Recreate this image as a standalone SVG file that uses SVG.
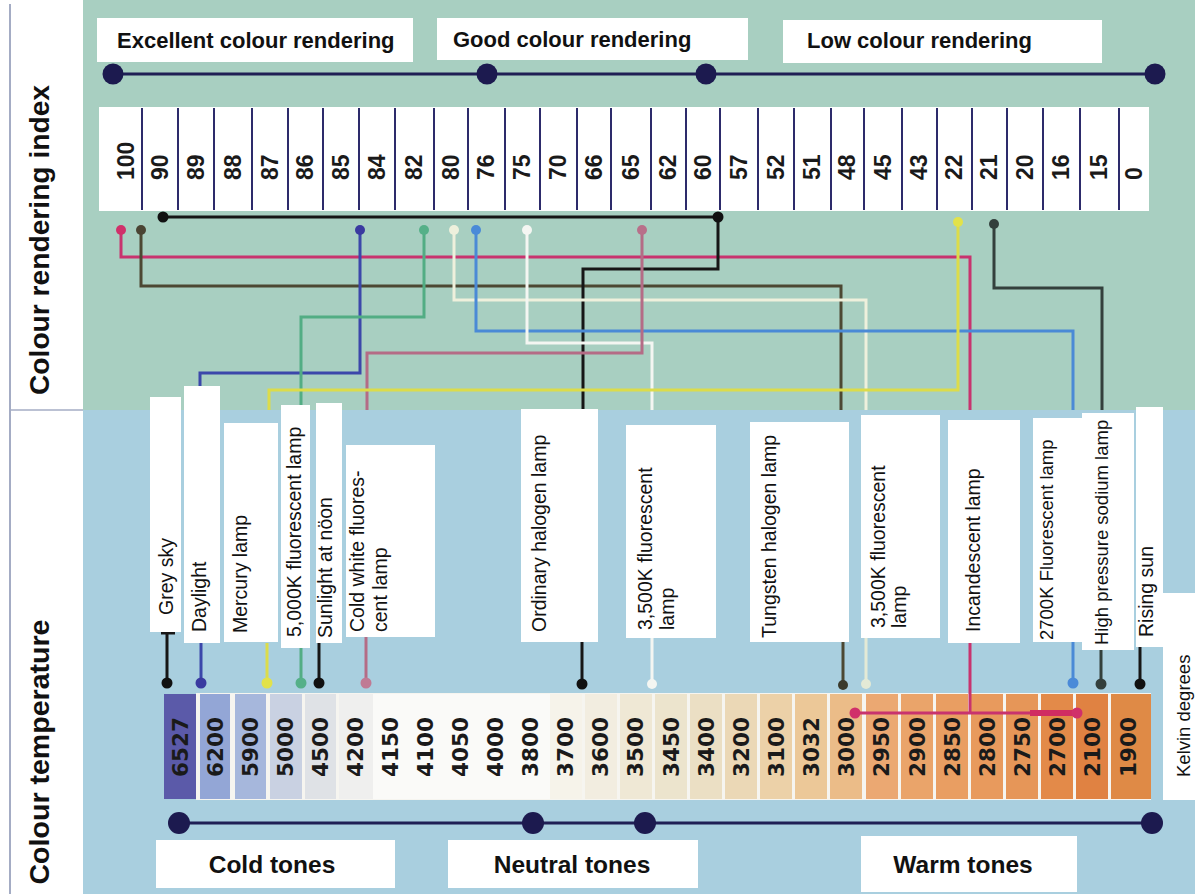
<svg xmlns="http://www.w3.org/2000/svg" width="1195" height="894" viewBox="0 0 1195 894">
<style>
.box{fill:#ffffff}
.hd{font-family:"Liberation Sans",Arial,sans-serif;font-weight:bold;font-size:22px;fill:#111}
.tone{font-family:"Liberation Sans",Arial,sans-serif;font-weight:bold;font-size:24.5px;fill:#111;text-anchor:middle}
.side{font-family:"Liberation Sans",Arial,sans-serif;font-weight:bold;font-size:28px;fill:#111;text-anchor:middle}
.lamp{font-family:"Liberation Sans",Arial,sans-serif;font-size:19.5px;fill:#111}
.sm{font-size:18.5px}
.cri{font-family:"Liberation Sans",Arial,sans-serif;font-weight:bold;font-size:23px;fill:#1a1a1a}
.kt{font-family:"DejaVu Sans","Liberation Sans",sans-serif;font-weight:bold;font-size:21.5px;fill:#1a1a1a;text-anchor:middle}
.sep{stroke:#2d2b6b;stroke-width:2}
.axis{stroke:#1f1f55;stroke-width:3;fill:none}
.axdot{fill:#1c1a4f}
.c{fill:none;stroke-width:3}
</style>

<!-- backgrounds -->
<rect x="0" y="0" width="1195" height="894" fill="#ffffff"/>
<rect x="83" y="0" width="1112" height="410" fill="#a8cfc1"/>
<rect x="83" y="410" width="1112" height="484" fill="#a9cfdf"/>
<line x1="10" y1="4" x2="10" y2="894" stroke="#a4acc4" stroke-width="2"/>
<line x1="10" y1="410" x2="83" y2="410" stroke="#a4acc4" stroke-width="1.5"/>
<text class="side" transform="translate(49,240) rotate(-90)" textLength="310" lengthAdjust="spacingAndGlyphs">Colour rendering index</text>
<text class="side" transform="translate(49,752) rotate(-90)" textLength="265" lengthAdjust="spacingAndGlyphs">Colour temperature</text>

<!-- top rendering categories -->
<g id="cri-categories">
<rect class="box" x="97" y="18" width="316" height="44"/>
<text class="hd" x="117" y="48">Excellent colour rendering</text>
<rect class="box" x="437" y="18" width="311" height="42"/>
<text class="hd" x="453" y="47">Good colour rendering</text>
<rect class="box" x="783" y="20" width="319" height="43"/>
<text class="hd" x="807" y="48">Low colour rendering</text>
<line class="axis" x1="113" y1="74" x2="1155" y2="74"/>
<circle class="axdot" cx="113" cy="74" r="10.5"/>
<circle class="axdot" cx="487" cy="74" r="10.5"/>
<circle class="axdot" cx="706" cy="74" r="10.5"/>
<circle class="axdot" cx="1155" cy="74" r="10.5"/>
</g>

<!-- CRI scale -->
<g id="cri-scale">
<rect class="box" x="99" y="107" width="1050" height="104"/>
<g class="sep">
<line x1="142" y1="108" x2="142" y2="210"/><line x1="178" y1="108" x2="178" y2="210"/>
<line x1="214" y1="108" x2="214" y2="210"/><line x1="252" y1="108" x2="252" y2="210"/>
<line x1="288" y1="108" x2="288" y2="210"/><line x1="323" y1="108" x2="323" y2="210"/>
<line x1="359" y1="108" x2="359" y2="210"/><line x1="395" y1="108" x2="395" y2="210"/>
<line x1="434" y1="108" x2="434" y2="210"/><line x1="468" y1="108" x2="468" y2="210"/>
<line x1="505" y1="108" x2="505" y2="210"/><line x1="540" y1="108" x2="540" y2="210"/>
<line x1="577" y1="108" x2="577" y2="210"/><line x1="611" y1="108" x2="611" y2="210"/>
<line x1="651" y1="108" x2="651" y2="210"/><line x1="686" y1="108" x2="686" y2="210"/>
<line x1="720" y1="108" x2="720" y2="210"/><line x1="758" y1="108" x2="758" y2="210"/>
<line x1="794" y1="108" x2="794" y2="210"/><line x1="831" y1="108" x2="831" y2="210"/>
<line x1="864" y1="108" x2="864" y2="210"/><line x1="902" y1="108" x2="902" y2="210"/>
<line x1="937" y1="108" x2="937" y2="210"/><line x1="972" y1="108" x2="972" y2="210"/>
<line x1="1007" y1="108" x2="1007" y2="210"/><line x1="1043" y1="108" x2="1043" y2="210"/>
<line x1="1080" y1="108" x2="1080" y2="210"/><line x1="1119" y1="108" x2="1119" y2="210"/>
</g>
<g class="cri">
<text transform="translate(134,180) rotate(-90)">100</text>
<text transform="translate(168,180) rotate(-90)">90</text>
<text transform="translate(204,180) rotate(-90)">89</text>
<text transform="translate(241,180) rotate(-90)">88</text>
<text transform="translate(278,180) rotate(-90)">87</text>
<text transform="translate(313,180) rotate(-90)">86</text>
<text transform="translate(349,180) rotate(-90)">85</text>
<text transform="translate(385,180) rotate(-90)">84</text>
<text transform="translate(422,180) rotate(-90)">82</text>
<text transform="translate(459,180) rotate(-90)">80</text>
<text transform="translate(494,180) rotate(-90)">76</text>
<text transform="translate(530,180) rotate(-90)">75</text>
<text transform="translate(566,180) rotate(-90)">70</text>
<text transform="translate(602,180) rotate(-90)">66</text>
<text transform="translate(639,180) rotate(-90)">65</text>
<text transform="translate(676,180) rotate(-90)">62</text>
<text transform="translate(711,180) rotate(-90)">60</text>
<text transform="translate(747,180) rotate(-90)">57</text>
<text transform="translate(784,180) rotate(-90)">52</text>
<text transform="translate(820,180) rotate(-90)">51</text>
<text transform="translate(855,180) rotate(-90)">48</text>
<text transform="translate(891,180) rotate(-90)">45</text>
<text transform="translate(927,180) rotate(-90)">43</text>
<text transform="translate(962,180) rotate(-90)">22</text>
<text transform="translate(997,180) rotate(-90)">21</text>
<text transform="translate(1033,180) rotate(-90)">20</text>
<text transform="translate(1069,180) rotate(-90)">16</text>
<text transform="translate(1107,180) rotate(-90)">15</text>
<text transform="translate(1142,180) rotate(-90)">0</text>
</g>
</g>

<!-- colour temperature scale -->
<g id="kelvin-scale">
<rect x="196" y="693" width="955" height="107" fill="#f6f5f0"/>
<rect x="164" y="694" width="32" height="105" fill="#5b5aa9"/>
<rect x="200" y="694" width="30" height="105" fill="#93a6d6"/>
<rect x="235" y="694" width="31" height="105" fill="#a6b7dc"/>
<rect x="270" y="694" width="32" height="105" fill="#c9d1e2"/>
<rect x="305" y="694" width="31" height="105" fill="#dfe2e6"/>
<rect x="339" y="694" width="34" height="105" fill="#efefee"/>
<rect x="373" y="694" width="177" height="105" fill="#fafaf8"/>
<rect x="550" y="694" width="32" height="105" fill="#f6f3ea"/>
<rect x="585" y="694" width="32" height="105" fill="#f2ede0"/>
<rect x="620" y="694" width="32" height="105" fill="#efe8d5"/>
<rect x="655" y="694" width="32" height="105" fill="#ece4cd"/>
<rect x="690" y="694" width="32" height="105" fill="#ebdfc4"/>
<rect x="725" y="694" width="32" height="105" fill="#ebd8b6"/>
<rect x="760" y="694" width="32" height="105" fill="#ecd1a8"/>
<rect x="795" y="694" width="32" height="105" fill="#ecc898"/>
<rect x="830" y="694" width="32" height="105" fill="#ebbc88"/>
<rect x="866" y="694" width="32" height="105" fill="#eba872"/>
<rect x="901" y="694" width="32" height="105" fill="#eaa46a"/>
<rect x="936" y="694" width="32" height="105" fill="#e99e62"/>
<rect x="971" y="694" width="32" height="105" fill="#e89a5d"/>
<rect x="1006" y="694" width="32" height="105" fill="#e69658"/>
<rect x="1041" y="694" width="32" height="105" fill="#e38a49"/>
<rect x="1076" y="694" width="32" height="105" fill="#e08242"/>
<rect x="1111" y="694" width="40" height="105" fill="#df8a46"/>
<g class="kt">
<text transform="translate(188,747) rotate(-90)">6527</text>
<text transform="translate(223,747) rotate(-90)">6200</text>
<text transform="translate(258,747) rotate(-90)">5900</text>
<text transform="translate(293,747) rotate(-90)">5000</text>
<text transform="translate(328,747) rotate(-90)">4500</text>
<text transform="translate(363,747) rotate(-90)">4200</text>
<text transform="translate(398,747) rotate(-90)">4150</text>
<text transform="translate(433,747) rotate(-90)">4100</text>
<text transform="translate(468,747) rotate(-90)">4050</text>
<text transform="translate(503,747) rotate(-90)">4000</text>
<text transform="translate(538,747) rotate(-90)">3800</text>
<text transform="translate(573,747) rotate(-90)">3700</text>
<text transform="translate(608,747) rotate(-90)">3600</text>
<text transform="translate(643,747) rotate(-90)">3500</text>
<text transform="translate(679,747) rotate(-90)">3450</text>
<text transform="translate(714,747) rotate(-90)">3400</text>
<text transform="translate(749,747) rotate(-90)">3200</text>
<text transform="translate(784,747) rotate(-90)">3100</text>
<text transform="translate(819,747) rotate(-90)">3032</text>
<text transform="translate(854,747) rotate(-90)">3000</text>
<text transform="translate(889,747) rotate(-90)">2950</text>
<text transform="translate(925,747) rotate(-90)">2900</text>
<text transform="translate(960,747) rotate(-90)">2850</text>
<text transform="translate(995,747) rotate(-90)">2800</text>
<text transform="translate(1030,747) rotate(-90)">2750</text>
<text transform="translate(1065,747) rotate(-90)">2700</text>
<text transform="translate(1100,747) rotate(-90)">2100</text>
<text transform="translate(1136,747) rotate(-90)">1900</text>
</g>
</g>

<!-- tone categories -->
<g id="tone-categories">
<line class="axis" x1="179" y1="823" x2="1152" y2="823"/>
<circle class="axdot" cx="179" cy="823" r="11"/>
<circle class="axdot" cx="533" cy="823" r="11"/>
<circle class="axdot" cx="645" cy="823" r="11"/>
<circle class="axdot" cx="1152" cy="823" r="11"/>
<rect class="box" x="156" y="840" width="239" height="48"/>
<text class="tone" x="272" y="873">Cold tones</text>
<rect class="box" x="448" y="840" width="250" height="48"/>
<text class="tone" x="572" y="873">Neutral tones</text>
<rect class="box" x="861" y="836" width="216" height="56"/>
<text class="tone" x="963" y="873">Warm tones</text>
</g>

<!-- connectors -->
<g id="connectors">
<path class="c" stroke="#c8336e" d="M121,230 V257 H970 V410"/>
<path class="c" stroke="#4c4833" d="M141,230 V286 H841 V410"/>
<path class="c" stroke="#161616" d="M163,217 H718 V269 H583 V410"/>
<path class="c" stroke="#3b47aa" d="M360,230 V373 H200 V388"/>
<path class="c" stroke="#52ad84" d="M424,230 V317 H301 V406"/>
<path class="c" stroke="#eef0dc" d="M454,230 V300 H866 V410"/>
<path class="c" stroke="#4a8ad6" d="M476,230 V331 H1073 V410"/>
<path class="c" stroke="#f4f6f2" d="M527,230 V343 H652 V410"/>
<path class="c" stroke="#b46c86" d="M642,230 V353 H367 V410"/>
<path class="c" stroke="#dcdc4a" d="M958,222 V390 H269 V410"/>
<path class="c" stroke="#33403c" d="M994,224 V288 H1102 V410"/>
<circle cx="121" cy="230" r="5" fill="#d0306a"/>
<circle cx="141" cy="230" r="5" fill="#4a4433"/>
<circle cx="163" cy="217" r="5.5" fill="#111"/>
<circle cx="718" cy="217" r="5.5" fill="#111"/>
<circle cx="360" cy="230" r="5" fill="#3a3aa0"/>
<circle cx="424" cy="230" r="5" fill="#55b088"/>
<circle cx="454" cy="230" r="5" fill="#eef0dc"/>
<circle cx="476" cy="230" r="5" fill="#4a8ad8"/>
<circle cx="527" cy="230" r="5" fill="#f4f6f2"/>
<circle cx="642" cy="230" r="5" fill="#b8708a"/>
<circle cx="958" cy="222" r="5" fill="#e2e24a"/>
<circle cx="994" cy="224" r="5" fill="#333f3c"/>

<path class="c" stroke="#161616" d="M161,633 H175 M167,633 V683"/>
<path class="c" stroke="#3b47aa" d="M201,643 V683"/>
<path class="c" stroke="#dcdc4a" d="M267,643 V683"/>
<path class="c" stroke="#52ad84" d="M301,648 V683"/>
<path class="c" stroke="#161616" d="M319,643 V683"/>
<path class="c" stroke="#b46c86" d="M366,637 V683"/>
<path class="c" stroke="#161616" d="M582,642 V684"/>
<path class="c" stroke="#f4f6f2" d="M652,638 V684"/>
<path class="c" stroke="#4c4833" d="M843,642 V685"/>
<path class="c" stroke="#e4ead6" d="M866,638 V684"/>
<path class="c" stroke="#c8336e" d="M970,643 V713"/>
<path class="c" stroke="#4a8ad6" d="M1073,642 V683"/>
<path class="c" stroke="#33403c" d="M1101,650 V684"/>
<path class="c" stroke="#161616" d="M1140,647 V684"/>
<path class="c" stroke="#c8336e" d="M855,713 H1077"/>
<path fill="none" stroke="#d02c62" stroke-width="6" d="M1030,713 H1077"/>
<circle cx="167" cy="683" r="5.5" fill="#111"/>
<circle cx="201" cy="683" r="5.5" fill="#3a3aa0"/>
<circle cx="267" cy="683" r="5.5" fill="#e2e24a"/>
<circle cx="301" cy="683" r="5.5" fill="#55b088"/>
<circle cx="319" cy="683" r="5.5" fill="#111"/>
<circle cx="366" cy="683" r="5.5" fill="#c07a94"/>
<circle cx="582" cy="684" r="5.5" fill="#111"/>
<circle cx="652" cy="684" r="5" fill="#f4f6f2"/>
<circle cx="843" cy="685" r="5" fill="#3a3a2c"/>
<circle cx="866" cy="684" r="5" fill="#e4ead6"/>
<circle cx="1073" cy="683" r="5.5" fill="#4a8ad8"/>
<circle cx="1101" cy="684" r="5.5" fill="#333f3c"/>
<circle cx="1140" cy="684" r="5.5" fill="#111"/>
<circle cx="855" cy="713" r="5.5" fill="#d0306a"/>
<circle cx="1077" cy="713" r="5.5" fill="#d0306a"/>
</g>

<!-- lamp labels -->
<g id="grey-sky"><rect class="box" x="150" y="397" width="31" height="235"/>
<text class="lamp" transform="translate(173,615) rotate(-90)">Grey sky</text></g>
<g id="daylight"><rect class="box" x="184" y="386" width="36" height="257"/>
<text class="lamp" transform="translate(206,632) rotate(-90)">Daylight</text></g>
<g id="mercury-lamp"><rect class="box" x="224" y="423" width="54" height="219"/>
<text class="lamp" transform="translate(247,633) rotate(-90)">Mercury lamp</text></g>
<g id="fluorescent-5000k"><rect class="box" x="281" y="405" width="29" height="243"/>
<text class="lamp" transform="translate(301,637) rotate(-90)">5,000K fluorescent lamp</text></g>
<g id="sunlight-noon"><rect class="box" x="316" y="403" width="26" height="240"/>
<text class="lamp" transform="translate(332,638) rotate(-90)">Sunlight at nöon</text></g>
<g id="cold-white-fluorescent"><rect class="box" x="346" y="445" width="89" height="192"/>
<text class="lamp" transform="translate(364,632) rotate(-90)">Cold white fluores-</text>
<text class="lamp" transform="translate(387,632) rotate(-90)">cent lamp</text></g>
<g id="ordinary-halogen"><rect class="box" x="521" y="409" width="77" height="233"/>
<text class="lamp" transform="translate(546,632) rotate(-90)">Ordinary halogen lamp</text></g>
<g id="fluorescent-3500k-a"><rect class="box" x="626" y="425" width="90" height="213"/>
<text class="lamp" transform="translate(652,630) rotate(-90)">3,500K fluorescent</text>
<text class="lamp" transform="translate(674,630) rotate(-90)">lamp</text></g>
<g id="tungsten-halogen"><rect class="box" x="750" y="422" width="99" height="220"/>
<text class="lamp" transform="translate(776,638) rotate(-90)">Tungsten halogen lamp</text></g>
<g id="fluorescent-3500k-b"><rect class="box" x="861" y="415" width="79" height="223"/>
<text class="lamp" transform="translate(885,628) rotate(-90)">3,500K fluorescent</text>
<text class="lamp" transform="translate(906,628) rotate(-90)">lamp</text></g>
<g id="incandescent"><rect class="box" x="948" y="420" width="72" height="223"/>
<text class="lamp" transform="translate(980,632) rotate(-90)">Incandescent lamp</text></g>
<g id="fluorescent-2700k"><rect class="box" x="1033" y="418" width="49" height="224"/>
<text class="lamp sm" transform="translate(1053,640) rotate(-90)">2700K Fluorescent lamp</text></g>
<g id="high-pressure-sodium"><rect class="box" x="1082" y="413" width="52" height="237"/>
<text class="lamp sm" transform="translate(1108,645) rotate(-90)">High pressure sodium lamp</text></g>
<g id="rising-sun"><rect class="box" x="1136" y="407" width="27" height="240"/>
<text class="lamp" transform="translate(1153,637) rotate(-90)">Rising sun</text></g>
<g id="kelvin-degrees"><rect class="box" x="1163" y="593" width="32" height="207"/>
<text class="lamp sm" transform="translate(1190,777) rotate(-90)">Kelvin degrees</text></g>
</svg>
